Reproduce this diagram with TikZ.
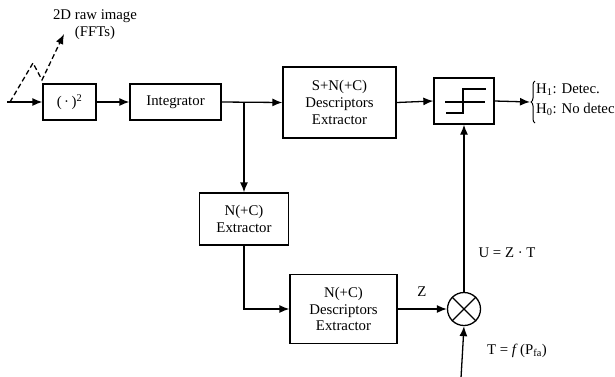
\documentclass[tikz,border=0pt]{standalone}
\usepackage{fontspec}
\setmainfont{Liberation Serif}
\usetikzlibrary{arrows.meta,decorations.pathreplacing}
\begin{document}
\begin{tikzpicture}[x=1pt,y=-1pt,
  font=\fontsize{14.8}{16.8}\selectfont,
  box/.style={draw,line width=1.3pt,align=center,inner sep=0pt},
  conn/.style={line width=1.3pt},
  arr/.style={conn,-{Latex[length=10pt,width=8pt]}},
  lbl/.style={inner sep=0pt,align=center}]
\useasboundingbox (0,0) rectangle (615,376);
% boxes
\node[box,minimum width=53pt,minimum height=36pt] (sq) at (69.5,102) {(\,·\,)\textsuperscript{2}};
\node[box,minimum width=91pt,minimum height=36pt] (integ) at (175.5,102) {Integrator};
\node[box,minimum width=113pt,minimum height=71pt] (snc) at (339.5,102.5) {S+N(+C)\\Descriptors\\Extractor};
\node[box,minimum width=60pt,minimum height=46pt] (thr) at (464,101) {};
\node[box,minimum width=89pt,minimum height=52pt] (ncx) at (244,219) {N(+C)\\Extractor};
\node[box,minimum width=107pt,minimum height=69pt] (ncd) at (343.5,309) {N(+C)\\Descriptors\\Extractor};
\node[draw,circle,line width=1.3pt,minimum size=33pt,inner sep=0pt] (mult) at (464,309) {};
\draw[line width=1.3pt] (mult.north west) -- (mult.south east) (mult.north east) -- (mult.south west);
% threshold symbol
\draw[line width=1.3pt] (445,102) -- (485,102);
\draw[line width=1.3pt] (446,113) -- (463,113) -- (463,89) -- (486,89);
% coordinates
\coordinate (in) at (7,102);
\coordinate (br) at (244,102);
\coordinate (out) at (530,102);
\coordinate (tin) at (461,378);
\coordinate (z0) at (10,102);
\coordinate (z1) at (33,63);
\coordinate (z2) at (42,80);
\coordinate (z3) at (64,34);
% connectors
\draw[arr] (in) -- (sq.west);
\draw[arr] (sq.east) -- (integ.west);
\draw[arr] (integ.east) -- (snc.west);
\draw[arr] (snc.east) -- (thr.west);
\draw[arr] (thr.east) -- (out);
\draw[arr] (br) -- (ncx.north);
\draw[arr] (ncx.south) |- (ncd.west);
\draw[arr] (ncd.east) -- (mult.west);
\draw[arr] (mult.north) -- (thr.south);
\draw[arr] (tin) -- (mult.south);
\draw[arr,dashed,dash pattern=on 5pt off 3pt] (z0) -- (z1) -- (z2) -- (z3);
% brace
\draw[line width=1pt,decorate,decoration={brace,amplitude=4pt}] (535,123) -- (535,81);
% labels
\node[lbl] (lraw) at (95,25) {2D raw image\\(FFTs)};
\node[lbl,anchor=west] (lh1) at (536,90) {H\textsubscript{1}: Detec.};
\node[lbl,anchor=west] (lh0) at (536,109) {H\textsubscript{0}: No detec};
\node[lbl] (lz) at (422,292) {Z};
\node[lbl] (lu) at (507,253) {U = Z · T};
\node[lbl] (lt) at (517,351) {T = \textit{f}\,(P\textsubscript{fa})};
\end{tikzpicture}
\end{document}
